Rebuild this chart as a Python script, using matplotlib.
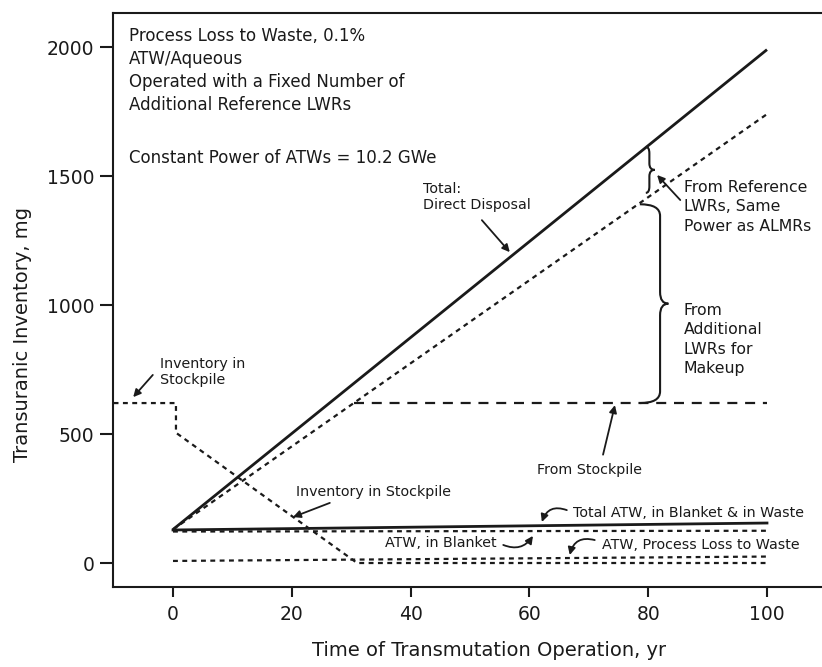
import numpy as np
import matplotlib
matplotlib.use("Agg")
import matplotlib.pyplot as plt
from matplotlib.path import Path
from matplotlib.patches import PathPatch

plt.rcParams['font.family'] = ['DejaVu Sans']

# ---- data ----
years = [0, 100]
total_direct_disposal = [130, 1990]
lwr_supplied = [130, 1740]
from_stockpile_x = [30.5, 100]
from_stockpile_y = [620, 620]
stockpile_x = [-10, 0.5, 0.5, 31, 100]
stockpile_y = [620, 620, 505, 0, 0]
total_atw = [128, 155]
atw_blanket = [122, 125]
atw_waste = [8, 25]

xticks = [0, 20, 40, 60, 80, 100]
yticks = [0, 500, 1000, 1500, 2000]

fig = plt.figure(figsize=(8.22, 6.67), dpi=100)
ax = fig.add_axes([113/822, 80/667, (865-113)/822, 574/667])
ax.set_xlim(-10.1, 116.5)
ax.set_ylim(-93, 2132)

ink = '#1a1a1a'
ax.plot(years, total_direct_disposal, color=ink, lw=2.0, solid_capstyle='butt')
ax.plot(years, lwr_supplied, color=ink, lw=1.6, dashes=(2.2, 2.0))
ax.plot(from_stockpile_x, from_stockpile_y, color=ink, lw=1.6, dashes=(4.5, 3.5))
ax.plot(stockpile_x, stockpile_y, color=ink, lw=1.6, dashes=(2.2, 2.0))
ax.plot(years, total_atw, color=ink, lw=2.0)
ax.plot(years, atw_blanket, color=ink, lw=1.6, dashes=(2.2, 2.0))
ax.plot(years, atw_waste, color=ink, lw=1.6, dashes=(2.2, 2.0))

for s in ['left', 'bottom', 'top']:
    ax.spines[s].set_linewidth(1.5)
    ax.spines[s].set_color(ink)
ax.spines['right'].set_visible(False)

ax.set_xticks(xticks)
ax.set_yticks(yticks)
ax.tick_params(axis='x', direction='out', length=7, width=1.5, pad=6, labelsize=13.5, colors=ink)
ax.tick_params(axis='y', direction='out', length=9.5, width=1.5, pad=4, labelsize=13.5, colors=ink)

ax.set_xlabel('Time of Transmutation Operation, yr', fontsize=14, color=ink, labelpad=12)
ax.set_ylabel('Transuranic Inventory, mg', fontsize=14, color=ink)
ax.yaxis.set_label_coords(-0.108, 0.44)


def brace(xs, y0, y1, curl, tip, r):
    ym = (y0 + y1) / 2
    verts = [(xs - curl, y0), (xs, y0), (xs, y0 + r),
             (xs, ym - r), (xs, ym), (xs + tip, ym),
             (xs, ym), (xs, ym + r),
             (xs, y1 - r), (xs, y1), (xs - curl, y1)]
    codes = [Path.MOVETO, Path.CURVE3, Path.CURVE3, Path.LINETO,
             Path.CURVE3, Path.CURVE3, Path.CURVE3, Path.CURVE3,
             Path.LINETO, Path.CURVE3, Path.CURVE3]
    ax.add_patch(PathPatch(Path(verts, codes), fill=False, lw=1.5, color=ink))

# braces tied to the line values
brace(82.0, from_stockpile_y[0], np.interp(78.3, years, lwr_supplied), 3.4, 1.4, 45)
brace(80.2, np.interp(79.8, years, lwr_supplied) + 20, np.interp(80, years, total_direct_disposal) - 5, 0.6, 0.9, 25)

fs_big = 12
fs_mid = 11.3
fs_small = 10.3

ax.text(-7.4, 2078, 'Process Loss to Waste, 0.1%\nATW/Aqueous\nOperated with a Fixed Number of\nAdditional Reference LWRs',
        fontsize=fs_big, va='top', ha='left', color=ink, linespacing=1.36)
ax.text(-7.4, 1568, 'Constant Power of ATWs = 10.2 GWe', fontsize=fs_big, va='center', ha='left', color=ink)

ax.text(42.1, 1418, 'Total:\nDirect Disposal', fontsize=fs_small, va='center', ha='left', color=ink)
aprops = dict(arrowstyle='-|>', color=ink, lw=1.3, mutation_scale=11, shrinkA=0, shrinkB=0)
ax.annotate('', xy=(56.7, 1205), xytext=(52.0, 1329), arrowprops=aprops)

ax.text(86.0, 1380, 'From Reference\nLWRs, Same\nPower as ALMRs', fontsize=fs_mid, va='center', ha='left', color=ink, linespacing=1.35)
ax.annotate('', xy=(81.5, 1504), xytext=(85.4, 1407), arrowprops=aprops)

ax.text(86.0, 866, 'From\nAdditional\nLWRs for\nMakeup', fontsize=fs_mid, va='center', ha='left', color=ink, linespacing=1.35)

ax.text(70.2, 360, 'From Stockpile', fontsize=fs_small, va='center', ha='center', color=ink)
ax.annotate('', xy=(74.4, 612), xytext=(72.4, 420), arrowprops=aprops)

ax.text(-2.2, 740, 'Inventory in\nStockpile', fontsize=fs_small, va='center', ha='left', color=ink)
ax.annotate('', xy=(-6.7, 643), xytext=(-3.4, 729), arrowprops=aprops)

ax.text(20.7, 275, 'Inventory in Stockpile', fontsize=fs_small, va='center', ha='left', color=ink)
ax.annotate('', xy=(20.2, 178), xytext=(26.4, 233), arrowprops=aprops)

ax.text(67.3, 194, 'Total ATW, in Blanket & in Waste', fontsize=fs_small, va='center', ha='left', color=ink)
ax.annotate('', xy=(62.1, 159), xytext=(66.3, 205),
            arrowprops=dict(aprops, connectionstyle='arc3,rad=0.5'))

ax.text(54.5, 78, 'ATW, in Blanket', fontsize=fs_small, va='center', ha='right', color=ink)
ax.annotate('', xy=(60.6, 105), xytext=(55.6, 70),
            arrowprops=dict(aprops, connectionstyle='arc3,rad=0.4'))

ax.text(72.2, 70, 'ATW, Process Loss to Waste', fontsize=fs_small, va='center', ha='left', color=ink)
ax.annotate('', xy=(66.8, 31), xytext=(71.0, 89),
            arrowprops=dict(aprops, connectionstyle='arc3,rad=0.5'))

fig.savefig('out.png', dpi=100)
